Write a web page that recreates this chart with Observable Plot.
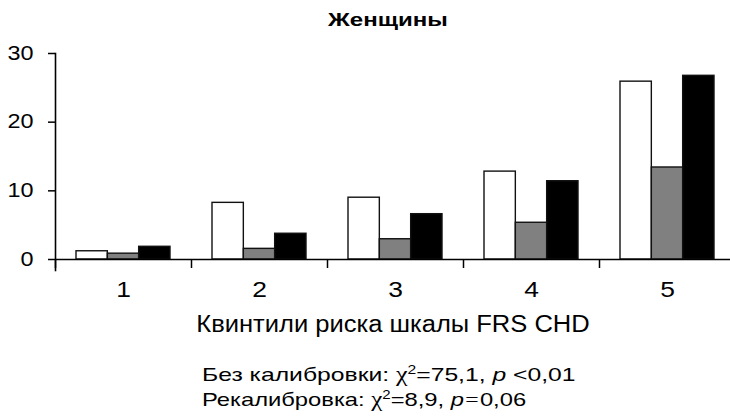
<!DOCTYPE html>
<html>
<head>
<meta charset="utf-8">
<script src="https://cdn.jsdelivr.net/npm/d3@7"></script>
<script src="https://cdn.jsdelivr.net/npm/@observablehq/plot@0.6"></script>
<style>
  html, body { margin: 0; padding: 0; background: #fff; }
  #wrap { position: relative; width: 730px; height: 416px; overflow: hidden; font-family: "Liberation Sans", Arial, sans-serif; color: #000; }
  #chart { position: absolute; left: 0; top: 0; }
  .t { position: absolute; line-height: 1; white-space: nowrap; }
  #title { top: 10.5px; left: 0; width: 776px; text-align: center; font-weight: bold; font-size: 18.5px; transform: scaleX(1.3); transform-origin: 388px 50%; }
  #xtitle { top: 313px; left: 0; width: 786px; text-align: center; font-size: 23px; transform: scaleX(1.11); transform-origin: 393px 50%; }
  .foot { left: 202px; font-size: 19px; transform: scaleX(1.3); transform-origin: 0 50%; }
  #f1 { top: 363.5px; }
  #f2 { top: 388.5px; transform: scaleX(1.25); }
  .chi { font-family: "Liberation Serif", "Times New Roman", serif; font-size: 20px; }
  sup { font-size: 12px; vertical-align: 7px; line-height: 0; }
  i { font-style: italic; }
  .eq { font-family: "Liberation Serif", serif; margin: 0 1px; }
</style>
</head>
<body>
<div id="wrap">
  <div id="chart"></div>
  <div class="t" id="title">Женщины</div>
  <div class="t" id="xtitle">Квинтили риска шкалы FRS CHD</div>
  <div class="t foot" id="f1">Без калибровки: <span class="chi">χ</span><sup>2</sup>=75,1, <i>p</i> &lt;0,01</div>
  <div class="t foot" id="f2">Рекалибровка: <span class="chi">χ</span><sup>2</sup>=8,9, <i>p</i><span class="eq">=</span>0,06</div>
</div>
<script>
const quintiles = ["1", "2", "3", "4", "5"];
const series = ["s1", "s2", "s3"];
const seriesColors = ["#ffffff", "#808080", "#000000"];
const valuesS1 = [1.2, 8.25, 9.0, 12.8, 25.9];
const valuesS2 = [0.85, 1.55, 2.95, 5.35, 13.4];
const valuesS3 = [1.85, 3.75, 6.6, 11.4, 26.75];
const yTicks = [0, 10, 20, 30];

const seriesValues = [valuesS1, valuesS2, valuesS3];
const data = [];
quintiles.forEach((q, i) => {
  series.forEach((s, j) => data.push({q, s, v: seriesValues[j][i]}));
});

const width = 730, height = 350, marginLeft = 55, marginRight = -5;
const fxStep = (width - marginLeft - marginRight) / quintiles.length;

const chart = Plot.plot({
  width, height,
  marginLeft, marginRight,
  marginTop: 53,
  marginBottom: 91,
  style: {fontFamily: "'Liberation Sans', Arial, sans-serif", color: "#000", background: "transparent", overflow: "visible"},
  fx: {domain: quintiles, paddingInner: 0, paddingOuter: 0, round: false, label: null},
  x: {domain: series, paddingInner: 0, paddingOuter: 0.67, round: false, axis: null},
  y: {domain: [0, 30], label: null},
  color: {domain: series, range: seriesColors},
  marks: [
    Plot.barY(data, {fx: "q", x: "s", y: "v", fill: "s", stroke: "#111", strokeWidth: 1.4}),
    Plot.ruleY([0], {stroke: "#000", strokeWidth: 1.6}),
    Plot.frame({anchor: "left", facetAnchor: "left", insetBottom: -11, stroke: "#000", strokeWidth: 1.6}),
    Plot.axisY({ticks: yTicks, tickSize: 7, tickPadding: 15, fontSize: 19.5, label: null, strokeWidth: 1.5}),
    Plot.axisFx({anchor: "bottom", tickSize: 9, tickFormat: () => "", dx: -fxStep / 2, label: null, strokeWidth: 1.5}),
    Plot.axisFx({anchor: "bottom", tickSize: 0, tickPadding: 22, fontSize: 22, label: null})
  ]
});
document.getElementById("chart").appendChild(chart);

// widen tick label glyphs to match the reference's horizontally stretched type
d3.select(chart).selectAll('g[aria-label="y-axis tick label"] text, g[aria-label="fx-axis tick label"] text')
  .attr("transform", function() {
    const t = this.getAttribute("transform") || "";
    return t + " scale(1.2,1)";
  });
</script>
</body>
</html>
